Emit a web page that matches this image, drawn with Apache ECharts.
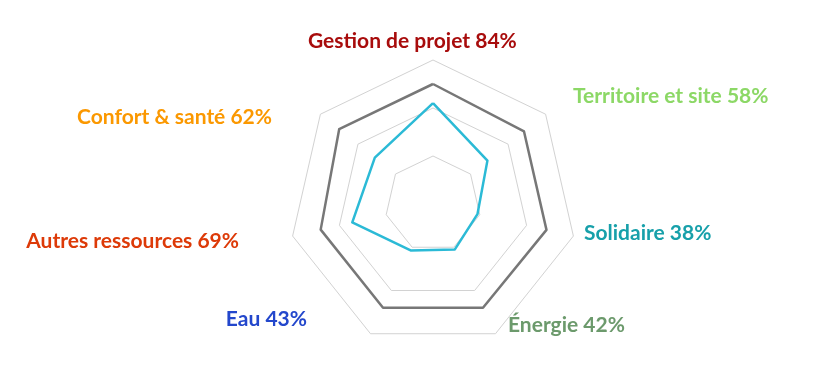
<!DOCTYPE html>
<html>
<head>
<meta charset="utf-8">
<script src="https://cdn.jsdelivr.net/npm/echarts@6/dist/echarts.min.js"></script>
<style>
  html, body { margin: 0; padding: 0; background: #ffffff; }
  #chart { width: 819px; height: 385px; }
</style>
</head>
<body>
<div id="chart"></div>
<script>
// Categories in clockwise order starting from the top
var categories = ['Gestion de projet', 'Territoire et site', 'Solidaire', 'Énergie', 'Eau', 'Autres ressources', 'Confort & santé'];
var scores = [84, 58, 38, 42, 43, 69, 62];
var target = [100, 97, 97, 96, 96, 96, 100];
var labelColors = ['#a80c0c', '#8cd866', '#17a0aa', '#6c9a6c', '#2347cc', '#dd3a08', '#fb9800'];

// label layout: [x, y, align]
var labelLayout = [
  [308, 41, 'left'],
  [573, 96, 'left'],
  [584, 233, 'left'],
  [508, 325, 'left'],
  [307, 319, 'right'],
  [239, 241, 'right'],
  [272, 117, 'right']
];

// ECharts radar lays indicators counter-clockwise; reorder to get clockwise layout
var order = [0];
for (var i = categories.length - 1; i >= 1; i--) order.push(i);

var indicators = order.map(function (i) { return { name: categories[i], min: 0, max: 120 }; });
var scoresOrdered = order.map(function (i) { return scores[i]; });
var targetOrdered = order.map(function (i) { return target[i]; });

var graphics = categories.map(function (c, i) {
  return {
    type: 'text',
    x: labelLayout[i][0],
    y: labelLayout[i][1],
    style: {
      text: c + ' ' + scores[i] + '%',
      fill: labelColors[i],
      font: 'bold 21px Lato',
      align: labelLayout[i][2],
      verticalAlign: 'middle'
    }
  };
});

var chart = echarts.init(document.getElementById('chart'), null, { renderer: 'canvas' });
chart.setOption({
  animation: false,
  backgroundColor: '#ffffff',
  radar: {
    center: [433, 204],
    radius: 144,
    shape: 'polygon',
    splitNumber: 3,
    startAngle: 90,
    indicator: indicators,
    axisName: { show: false },
    axisLine: { show: false },
    axisTick: { show: false },
    axisLabel: { show: false },
    splitArea: { show: false },
    splitLine: { lineStyle: { color: '#d2d2d2', width: 1 } }
  },
  series: [{
    type: 'radar',
    symbol: 'none',
    silent: true,
    data: [
      { value: targetOrdered, name: 'Objectif', lineStyle: { color: '#777777', width: 2.5 } },
      { value: scoresOrdered, name: 'Score', lineStyle: { color: '#2bbad6', width: 2.5 } }
    ]
  }],
  graphic: graphics
});
</script>
</body>
</html>
